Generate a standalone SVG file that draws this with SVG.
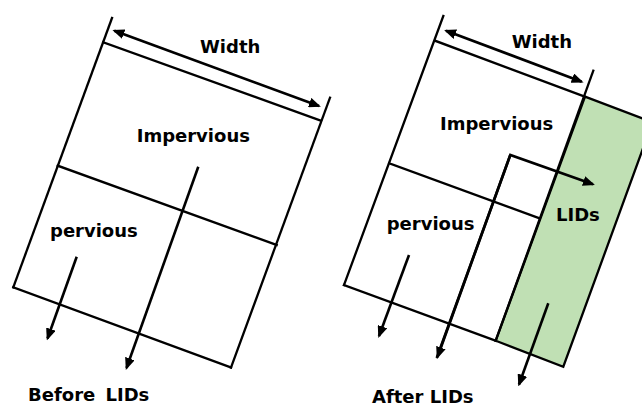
<svg xmlns="http://www.w3.org/2000/svg" width="642" height="407" viewBox="0 0 642 407">
<style>
.edge{fill:none;stroke:#000;stroke-width:2.3;stroke-linecap:square}
.arr{fill:none;stroke:#000;stroke-width:2.6;marker-end:url(#ah)}
.dim{fill:none;stroke:#000;stroke-width:2.6;marker-start:url(#ah);marker-end:url(#ah)}
.lid{fill:#c0e0b4;stroke:#000;stroke-width:2.3;stroke-linejoin:miter}
text{font-family:"DejaVu Sans","Liberation Sans",sans-serif;font-weight:bold;font-size:18px;fill:#000}
</style>
<defs>
<marker id="ah" viewBox="0 0 12 10" refX="10" refY="5" markerWidth="12" markerHeight="10" markerUnits="userSpaceOnUse" orient="auto-start-reverse">
<path d="M0,0 L12,5 L0,10 z" fill="#000"/>
</marker>
</defs>
<g id="before">
<line class="edge" x1="112" y1="18" x2="13.3" y2="287.3"/>
<line class="edge" x1="103.3" y1="42.3" x2="321" y2="120.7"/>
<line class="edge" x1="330" y1="97.7" x2="231" y2="367.5"/>
<line class="edge" x1="13.3" y1="287.3" x2="231" y2="367.5"/>
<line class="edge" x1="57.7" y1="165.7" x2="276.7" y2="245"/>
<text x="200" y="52.7">Width</text>
<text x="136.7" y="141.7">Impervious</text>
<text x="50" y="237.3">pervious</text>
<text x="28" y="400.5" word-spacing="4">Before LIDs</text>
</g>
<g id="after">
<polygon class="lid" points="585,96.7 652.6,122.2 563.3,366.7 495.7,340.7"/>
<line class="edge" x1="443.3" y1="16" x2="344" y2="285"/>
<line class="edge" x1="435" y1="40.7" x2="585" y2="96.7"/>
<line class="edge" x1="593.3" y1="70.7" x2="495.7" y2="340.7"/>
<line class="edge" x1="344" y1="285" x2="495.7" y2="340.7"/>
<line class="edge" x1="389.3" y1="163.3" x2="539.3" y2="218.3"/>
<text x="511.7" y="47.7">Width</text>
<text x="440" y="129.7">Impervious</text>
<text x="556" y="221.3">LIDs</text>
<text x="386.7" y="229.5">pervious</text>
<text x="372" y="403">After LIDs</text>
</g>
<g id="connectors">
<line class="dim" x1="114.3" y1="30.7" x2="319" y2="106"/>
<line class="arr" x1="198.3" y1="166.7" x2="126.5" y2="368"/>
<line class="arr" x1="76.7" y1="256.7" x2="47.5" y2="338.5"/>
<line class="dim" x1="446" y1="30.7" x2="581.7" y2="81.7"/>
<polyline class="arr" points="436.7,358 510.3,155 593,184.3"/>
<line class="arr" x1="510.3" y1="155" x2="437.5" y2="357"/>
<line class="arr" x1="409" y1="255" x2="379" y2="336"/>
<line class="arr" x1="548.3" y1="303.3" x2="519" y2="384.5"/>
</g>
</svg>
